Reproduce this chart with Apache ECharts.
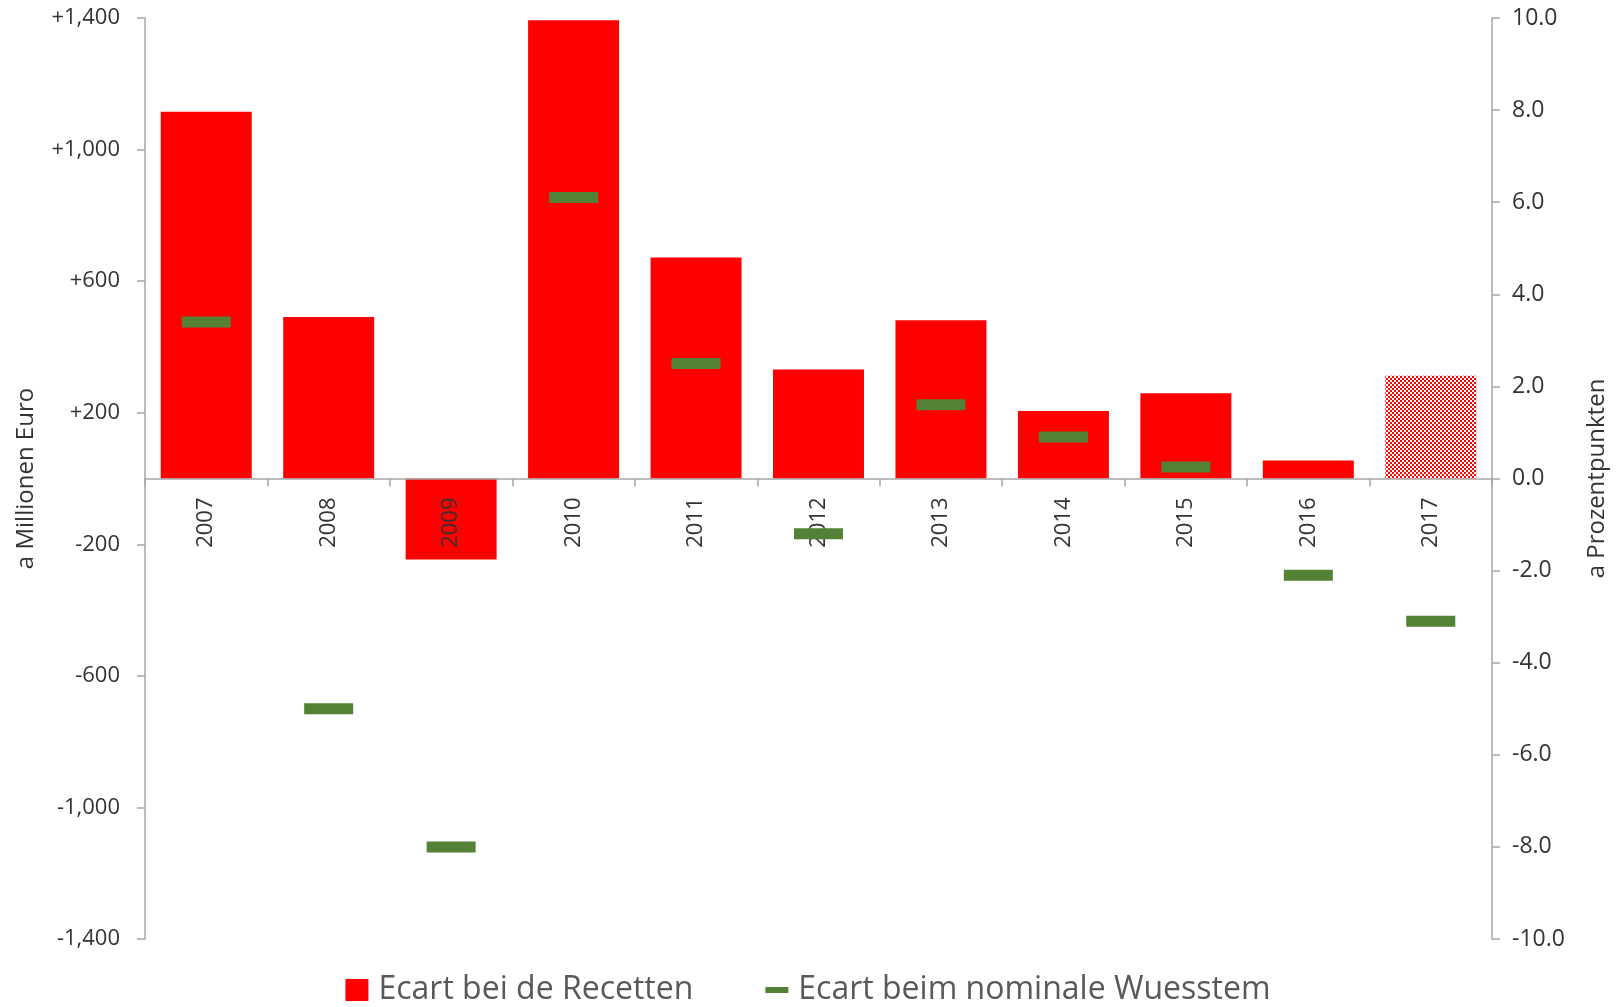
<!DOCTYPE html>
<html>
<head>
<meta charset="utf-8">
<title>Ecart bei de Recetten</title>
<script src="https://cdn.jsdelivr.net/npm/echarts@6/dist/echarts.min.js"></script>
<style>
  html, body { margin: 0; padding: 0; background: #fff; }
  #chart { width: 1616px; height: 1007px; }
</style>
</head>
<body>
<div id="chart"></div>
<script>
// Joren
const years = ['2007', '2008', '2009', '2010', '2011', '2012', '2013', '2014', '2015', '2016', '2017'];
// Ecart bei de Recetten (a Millionen Euro)
const recetten = [1115, 491, -246, 1393, 672, 331, 481, 205, 259, 55, 312];
// Ecart beim nominale Wuesstem (a Prozentpunkten)
const wuesstem = [3.4, -5.0, -8.0, 6.1, 2.5, -1.2, 1.6, 0.9, 0.25, -2.1, -3.1];

const fontName = '"Open Sans", "Noto Sans", sans-serif';
const axisGray = '#a6a6a6';
const textColor = '#333';

const gridTop = 18;
const gridBottom = 68;
const gridHeight = 1007 - gridTop - gridBottom;

// schraffuer fir 2017 (Prognos)
function makePattern() {
  const c = document.createElement('canvas');
  c.width = 4;
  c.height = 4;
  const ctx = c.getContext('2d');
  ctx.fillStyle = '#fff';
  ctx.fillRect(0, 0, 4, 4);
  ctx.fillStyle = '#ff0000';
  ctx.fillRect(0, 0, 2, 2);
  ctx.fillRect(2, 2, 2, 2);
  return c;
}

const barData = recetten.map((v, i) => {
  if (i === years.length - 1) {
    return { value: v, itemStyle: { color: { image: makePattern(), repeat: 'repeat' } } };
  }
  return v;
});

const chart = echarts.init(document.getElementById('chart'));

const option = {
  animation: false,
  textStyle: { fontFamily: fontName },
  grid: { left: 145, right: 124, top: gridTop, bottom: gridBottom, containLabel: false, outerBoundsMode: 'none' },
  legend: {
    bottom: -4,
    left: 'center',
    itemWidth: 23,
    itemHeight: 22,
    itemGap: 72,
    textStyle: { fontSize: 32, color: '#595959', fontFamily: fontName, padding: [0, 0, 0, 5] },
    data: [
      { name: 'Ecart bei de Recetten', icon: 'rect' },
      { name: 'Ecart beim nominale Wuesstem', icon: 'path://M0,0L0.01,0L0.01,0.01Z M0,8h23v6h-23z M22.99,22L23,22L23,21.99Z' }
    ]
  },
  xAxis: {
    type: 'category',
    data: years,
    z: 10,
    // d'Achs an der Mëtt (Null) setzen
    offset: -gridHeight / 2,
    axisLine: { onZero: false, lineStyle: { color: axisGray, width: 1.5 } },
    axisTick: { show: true, length: 8, lineStyle: { color: axisGray, width: 1.5 } },
    axisLabel: { rotate: 90, margin: 19, fontSize: 22, color: textColor, fontFamily: fontName },
    splitLine: { show: false }
  },
  yAxis: [
    {
      type: 'value',
      min: -1400,
      max: 1400,
      interval: 400,
      name: 'a Millionen Euro',
      nameLocation: 'middle',
      nameRotate: 90,
      nameGap: 107,
      nameTextStyle: { fontSize: 24, color: textColor, fontFamily: fontName },
      axisLine: { show: true, lineStyle: { color: axisGray, width: 1.5 } },
      axisTick: { show: true, length: 8, lineStyle: { color: axisGray, width: 1.5 } },
      axisLabel: {
        margin: 25,
        fontSize: 22,
        color: textColor,
        fontFamily: fontName,
        formatter: v => (v > 0 ? '+' : '') + v.toLocaleString('en-US')
      },
      splitLine: { show: false }
    },
    {
      type: 'value',
      min: -10,
      max: 10,
      interval: 2,
      position: 'right',
      name: 'a Prozentpunkten',
      nameLocation: 'middle',
      nameRotate: 90,
      nameGap: 93,
      nameTextStyle: { fontSize: 24, color: textColor, fontFamily: fontName },
      axisLine: { show: true, lineStyle: { color: axisGray, width: 1.5 } },
      axisTick: { show: true, length: 8, lineStyle: { color: axisGray, width: 1.5 } },
      axisLabel: {
        margin: 20,
        fontSize: 23,
        color: textColor,
        fontFamily: fontName,
        formatter: v => v.toFixed(1)
      },
      splitLine: { show: false }
    }
  ],
  series: [
    {
      name: 'Ecart bei de Recetten',
      type: 'bar',
      barWidth: 91,
      data: barData,
      itemStyle: { color: '#ff0000' },
      z: 2
    },
    {
      name: 'Ecart beim nominale Wuesstem',
      type: 'scatter',
      yAxisIndex: 1,
      symbol: 'rect',
      symbolSize: [49, 11],
      data: wuesstem,
      itemStyle: { color: '#538135', opacity: 1 },
      z: 20
    }
  ]
};

chart.setOption(option);
</script>
</body>
</html>
